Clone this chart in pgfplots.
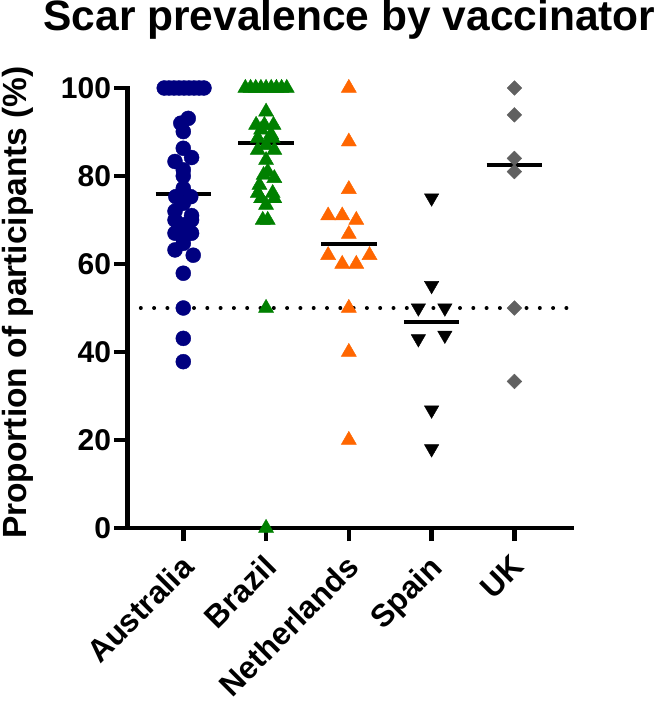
\documentclass[border=0pt]{standalone}
\usepackage{pgfplots}
\pgfplotsset{compat=1.18}
\usepackage{fontspec}
\setmainfont{Liberation Sans}
\definecolor{cAus}{RGB}{0,0,128}
\definecolor{cBra}{RGB}{0,128,0}
\definecolor{cNet}{RGB}{255,102,0}
\definecolor{cSpa}{RGB}{0,0,0}
\definecolor{cUK}{RGB}{96,96,96}
\begin{document}
\begin{tikzpicture}
\begin{axis}[
  scale only axis,
  width=444pt, height=440pt,
  xmin=-0.674, xmax=4.69, ymin=0, ymax=100,
  clip=false,
  axis x line=bottom, axis y line=left,
  axis line style={-, line width=4.5pt, line cap=rect},
  xtick={0,1,2,3,4},
  xticklabels={Australia,Brazil,Netherlands,Spain,UK},
  ytick={0,20,40,60,80,100},
  minor tick num=0,
  tick align=outside,
  major tick length=13pt,
  tick style={line width=4.5pt, black},
  /pgf/number format/assume math mode=true,
  yticklabel style={font=\fontsize{30}{36}\selectfont\bfseries},
  xticklabel style={font=\fontsize{31.5}{38}\selectfont\bfseries, xshift=-4pt, rotate=45, anchor=north east, inner sep=0pt},
  xticklabel shift=12pt,
  title={Scar prevalence by vaccinator},
  title style={at={(axis description cs:0.5,1)}, anchor=base, yshift=51pt, font=\fontsize{42.5}{50}\selectfont\bfseries, inner sep=0pt},
  ylabel={Proportion of participants (\%)},
  every axis y label/.style={at={(axis description cs:-0.2264,0.5125)}, rotate=90, anchor=base, font=\fontsize{33.5}{40}\selectfont\bfseries, inner sep=0pt},
]
\coordinate (O) at (rel axis cs:0,0);
% reference line at 50
\addplot[black, line width=4pt, line cap=round, dash pattern=on 0pt off 13.3pt, forget plot] coordinates {(-0.674,50) (4.69,50)};

% Australia
\addplot[only marks, mark=*, mark size=7.5pt, mark options={fill=cAus, draw=cAus, line width=0.4pt}] table {
x y
-0.23 100
-0.17 100
-0.11 100
-0.05 100
0.01 100
0.07 100
0.13 100
0.19 100
0.25 100
0.06 93.1
-0.03 92.0
0 90.1
0 86.3
0.10 84.2
-0.10 83.3
0 81.4
0 80.0
0 77.2
-0.09 75.3
0.09 75.3
0 73.8
-0.10 72.0
0.10 71.0
-0.10 70.0
0.10 70.0
0 68.9
-0.10 67.0
0.10 67.0
0 66.0
0 64.7
-0.10 63.2
0.12 62.0
0 57.9
0 50.0
0 43.1
0 37.8
};
\addplot[black, line width=4pt] coordinates {(-0.335,76.0) (0.335,76.0)};

% Brazil
\addplot[black, line width=4pt] coordinates {(0.665,87.6) (1.335,87.6)};
\addplot[only marks, mark=triangle*, mark size=8.7pt, mark options={fill=cBra, draw=cBra, line width=0.4pt}] table {
x y
0.75 100
0.8125 100
0.875 100
0.9375 100
1.0 100
1.0625 100
1.125 100
1.1875 100
1.25 100
1.0 94.6
0.88 91.6
0.98 91.6
1.09 91.6
0.94 90.5
1.06 89.5
0.90 88.6
1.08 88.6
1.0 87.0
0.90 85.9
1.10 85.9
1.0 83.6
1.02 81.0
0.97 80.2
1.10 79.5
0.92 77.95
0.90 76.1
1.08 76.1
0.94 74.9
1.10 74.9
1.0 73.4
0.96 70.0
1.02 70.0
1.0 50.0
1.0 0
};

% Netherlands
\addplot[only marks, mark=triangle*, mark size=8.7pt, mark options={fill=cNet, draw=cNet, line width=0.4pt}] table {
x y
2.0 100
2.0 87.8
2.0 77.0
1.75 71.0
1.92 71.0
2.09 70.0
2.0 66.8
1.75 62.0
2.25 62.0
1.92 60.0
2.09 60.0
2.0 50.0
2.0 40.0
2.0 20.0
};
\addplot[black, line width=4pt] coordinates {(1.665,64.5) (2.335,64.5)};

% Spain
\addplot[only marks, mark=triangle*, mark size=8.3pt, mark options={rotate=180, fill=cSpa, draw=cSpa, line width=0.4pt}] table {
x y
3.0 75.0
3.0 55.1
2.84 50.0
3.16 50.0
2.84 43.0
3.16 43.8
3.0 26.8
3.0 18.0
};
\addplot[black, line width=4pt] coordinates {(2.665,46.9) (3.335,46.9)};

% UK
\addplot[only marks, mark=square*, mark size=5.2pt, mark options={rotate=45, fill=cUK, draw=cUK, line width=0.4pt}] table {
x y
4.0 100
4.0 93.9
4.0 84.0
4.0 81.0
4.0 50.0
4.0 33.3
};
\addplot[black, line width=4pt] coordinates {(3.665,82.4) (4.335,82.4)};
\end{axis}
\pgfresetboundingbox
\path (O) ++(-127.5pt,-182pt) rectangle ++(656pt,710pt);
\end{tikzpicture}
\end{document}
